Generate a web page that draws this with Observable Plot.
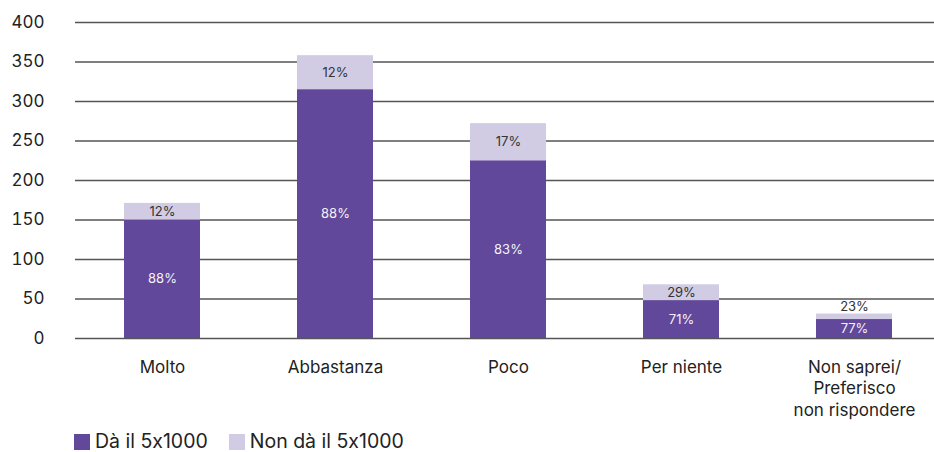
<!DOCTYPE html>
<html>
<head>
<meta charset="utf-8">
<script src="https://cdn.jsdelivr.net/npm/d3@7"></script>
<script src="https://cdn.jsdelivr.net/npm/@observablehq/plot@0.6"></script>
<style>
  html, body { margin: 0; padding: 0; background: #fff; }
  body { width: 934px; height: 452px; overflow: hidden; font-family: Inter, Roboto, sans-serif; font-feature-settings: "calt" 0; }
  #chart svg { display: block; font-feature-settings: "calt" 0; }
  .legend { display: flex; align-items: center; margin-left: 74px; margin-top: 6px; height: 21px; font-size: 19.5px; line-height: 21px; color: #222; }
  .legend .item { display: flex; align-items: center; margin-right: 21px; }
  .legend .sw { width: 16px; height: 16px; margin-right: 5px; }
</style>
</head>
<body>
<div id="chart"></div>
<script>
const categories = ["Molto", "Abbastanza", "Poco", "Per niente", "Non saprei/\nPreferisco\nnon rispondere"];
const series = ["Dà il 5x1000", "Non dà il 5x1000"];
const daValues = [150, 315, 225, 48, 24];
const nonDaValues = [21, 43, 47, 20, 7];
const daLabels = ["88%", "88%", "83%", "71%", "77%"];
const nonDaLabels = ["12%", "12%", "17%", "29%", "23%"];
const yTicks = [0, 50, 100, 150, 200, 250, 300, 350, 400];
const colors = ["#61489a", "#d1cce3"];

const rows = [];
categories.forEach((c, i) => {
  rows.push({cat: c, s: series[0], y1: 0, y2: daValues[i], label: daLabels[i]});
  rows.push({cat: c, s: series[1], y1: daValues[i], y2: daValues[i] + nonDaValues[i], label: nonDaLabels[i]});
});
const fits = d => (d.y2 - d.y1) >= 12;

const chart = Plot.plot({
  width: 934,
  height: 425,
  marginLeft: 75,
  marginRight: 0,
  marginTop: 22,
  marginBottom: 87,
  style: {fontFamily: "Inter, Roboto, sans-serif", fontSize: "16px", color: "#222", background: "#fff"},
  x: {type: "band", domain: categories, range: [75, 941], paddingInner: 0.56, paddingOuter: 0.28},
  y: {domain: [0, 400]},
  color: {domain: series, range: colors},
  marks: [
    Plot.ruleY(yTicks, {stroke: "#555", strokeWidth: 1.3}),
    Plot.barY(rows, {x: "cat", y1: "y1", y2: "y2", fill: "s"}),
    Plot.text(rows.filter(fits), {
      x: "cat", y: d => (d.y1 + d.y2) / 2, text: "label",
      fill: d => d.s === series[0] ? "#f4f2f8" : "#333",
      fontSize: 13
    }),
    Plot.text(rows.filter(d => !fits(d)), {
      x: "cat", y: "y2", text: "label", dy: -7,
      fill: "#333", fontSize: 13
    }),
    Plot.axisY({ticks: yTicks, tickSize: 0, tickPadding: 31, fontSize: 17, label: null, color: "#222"}),
    Plot.axisX({tickSize: 0, tickPadding: 19, fontSize: 17, label: null, lineHeight: 1.27, color: "#222"})
  ]
});
document.getElementById("chart").appendChild(chart);

const legend = document.createElement("div");
legend.className = "legend";
series.forEach((s, i) => {
  const item = document.createElement("div");
  item.className = "item";
  const sw = document.createElement("span");
  sw.className = "sw";
  sw.style.background = colors[i];
  const t = document.createElement("span");
  t.textContent = s;
  item.appendChild(sw);
  item.appendChild(t);
  legend.appendChild(item);
});
document.body.appendChild(legend);
</script>
</body>
</html>
